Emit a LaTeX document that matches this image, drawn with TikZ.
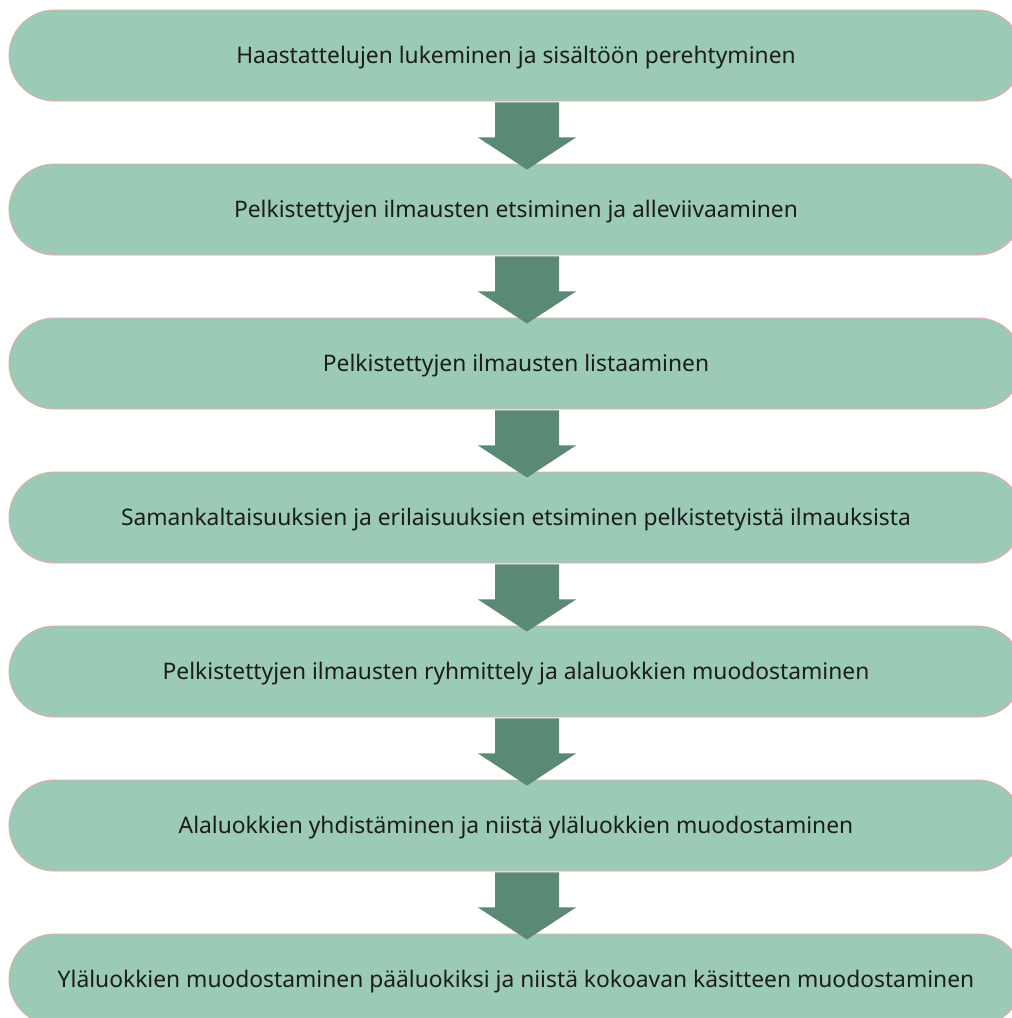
\documentclass[tikz,border=0pt]{standalone}
\usepackage{fontspec}
\setmainfont{Noto Sans}
\usetikzlibrary{calc}
\definecolor{pillfill}{HTML}{9BCAB7}
\definecolor{pillline}{HTML}{E6ABA8}
\definecolor{arrowfill}{HTML}{5B8A74}
\definecolor{txt}{HTML}{1C1C1C}
\tikzset{
  pill/.style={draw=pillline, line width=0.9pt, fill=pillfill, rounded corners=45.5pt,
    minimum width=1014pt, minimum height=91pt, inner sep=0pt,
    text height=16.2pt, text depth=0pt,
    text=txt, font=\fontsize{22.8}{26}\selectfont},
  flowarrow/.style={fill=arrowfill}
}
\newcommand{\flowarr}[2]{%
  \fill[flowarrow] ($(#1.south)+(-21pt,-1pt)$) -- ($(#1.south)+(43pt,-1pt)$)
    -- ($(#1.south)+(43pt,-36pt)$) -- ($(#1.south)+(60pt,-36pt)$)
    -- ($(#2.north)+(11pt,-6pt)$) -- ($(#1.south)+(-38pt,-36pt)$)
    -- ($(#1.south)+(-21pt,-36pt)$) -- cycle;}
\begin{document}
\begin{tikzpicture}[x=1pt,y=-1pt]
\useasboundingbox (0,0) rectangle (1012,1018);
\clip (0,0) rectangle (1012,1018);
\fill[white] (0,0) rectangle (1012,1018);
\node[pill] (b1) at (516,55.5) {Haastattelujen lukeminen ja sisältöön perehtyminen};
\node[pill] (b2) at (516,209.5) {Pelkistettyjen ilmausten etsiminen ja alleviivaaminen};
\node[pill] (b3) at (516,363.5) {Pelkistettyjen ilmausten listaaminen};
\node[pill] (b4) at (516,517.5) {Samankaltaisuuksien ja erilaisuuksien etsiminen pelkistetyistä ilmauksista};
\node[pill] (b5) at (516,671.5) {Pelkistettyjen ilmausten ryhmittely ja alaluokkien muodostaminen};
\node[pill] (b6) at (516,825.5) {Alaluokkien yhdistäminen ja niistä yläluokkien muodostaminen};
\node[pill] (b7) at (516,979.5) {Yläluokkien muodostaminen pääluokiksi ja niistä kokoavan käsitteen muodostaminen};
\flowarr{b1}{b2}
\flowarr{b2}{b3}
\flowarr{b3}{b4}
\flowarr{b4}{b5}
\flowarr{b5}{b6}
\flowarr{b6}{b7}
\end{tikzpicture}
\end{document}
